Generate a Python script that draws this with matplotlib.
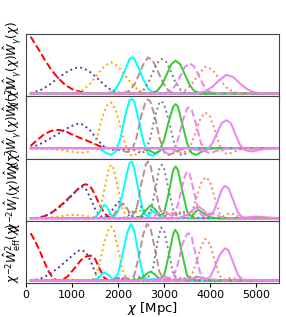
import numpy as np
import matplotlib
matplotlib.use("Agg")
import matplotlib.pyplot as plt

CHI_MIN = 100
CHI_MAX = 5500

# line style for each tomographic bin
COLORS = ['red', 'rebeccapurple', 'orange', 'cyan', 'rosybrown',
          'slategray', 'limegreen', 'violet', 'salmon', 'violet']
STYLES = ['--', ':', ':', '-', '--', ':', '-', '--', ':', '-']

YLABELS = [r'$\chi^{-2}\hat{W}_\gamma(\chi)\hat{W}_\gamma(\chi)$',
           r'$\chi^{-2}\hat{W}_\gamma(\chi)\hat{W}_I(\chi)$',
           r'$\chi^{-2}\hat{W}_I(\chi)\hat{W}_I(\chi)$',
           r'$\chi^{-2}\hat{W}^2_{\rm eff}(\chi)$']

XTICKS = [0, 1000, 2000, 3000, 4000, 5000]

# (chi [Mpc], value), arbitrary units per panel
panel_gg = [
    [(100, 171), (250, 138), (400, 103), (550, 71), (700, 46), (850, 26), (1000, 13), (1150, 6), (1300, 2), (1500, 0)],
    [(100, 1), (300, 9), (500, 25), (700, 47), (900, 66), (1050, 76), (1150, 79), (1250, 76), (1400, 64), (1550, 46), (1700, 26), (1850, 10), (2000, 3), (2150, 0)],
    [(1000, 0), (1200, 6), (1400, 30), (1550, 57), (1700, 82), (1850, 94), (2000, 82), (2150, 55), (2300, 28), (2450, 9), (2600, 2), (2700, 0)],
    [(1700, 0), (1850, 4), (1950, 15), (2050, 38), (2150, 70), (2250, 104), (2300, 109), (2350, 104), (2450, 76), (2550, 42), (2650, 15), (2750, 4), (2900, 0)],
    [(2100, 0), (2250, 8), (2350, 25), (2450, 55), (2550, 88), (2650, 109), (2750, 100), (2850, 72), (2950, 40), (3050, 15), (3150, 4), (3300, 0)],
    [(2400, 0), (2550, 10), (2650, 30), (2750, 62), (2850, 92), (2950, 104), (3050, 95), (3150, 65), (3250, 33), (3350, 12), (3450, 3), (3600, 0)],
    [(2700, 0), (2850, 8), (2950, 25), (3050, 55), (3150, 87), (3250, 99), (3350, 88), (3450, 58), (3550, 27), (3650, 8), (3800, 0)],
    [(3000, 0), (3150, 8), (3250, 25), (3350, 52), (3450, 80), (3550, 91), (3650, 82), (3750, 55), (3850, 26), (3950, 8), (4100, 0)],
    [(3300, 0), (3450, 8), (3600, 27), (3750, 58), (3900, 81), (4050, 72), (4200, 44), (4350, 18), (4500, 5), (4650, 0)],
    [(3700, 0), (3900, 7), (4050, 20), (4200, 40), (4350, 56), (4500, 50), (4650, 30), (4800, 13), (4950, 4), (5100, 1), (5300, 0)],
]

panel_gI = [
    [(100, 7), (250, 25), (400, 42), (550, 52), (700, 55), (850, 51), (1000, 41), (1150, 32), (1300, 24), (1450, 15), (1600, 6), (1750, 1), (1900, 0)],
    [(100, 1), (300, 12), (500, 27), (700, 43), (900, 60), (1050, 70), (1150, 74), (1250, 70), (1400, 52), (1550, 25), (1700, 4), (1850, -4), (2000, -6), (2150, -4), (2300, -1), (2500, 0)],
    [(500, -1), (800, -6), (1000, -11), (1200, -14), (1350, -11), (1450, 0), (1550, 35), (1650, 90), (1750, 127), (1850, 137), (1950, 115), (2050, 65), (2150, 14), (2250, -18), (2300, -23), (2400, -18), (2500, -8), (2650, -2), (2800, 0)],
    [(1500, 0), (1650, -5), (1750, -15), (1850, -20), (1950, -10), (2050, 30), (2150, 95), (2250, 145), (2300, 147), (2350, 140), (2450, 85), (2550, 20), (2650, -18), (2750, -23), (2850, -14), (2950, -5), (3100, -1), (3300, 0)],
    [(1900, 0), (2050, -6), (2200, -12), (2300, -6), (2400, 30), (2500, 95), (2600, 140), (2650, 146), (2700, 140), (2800, 95), (2900, 30), (3000, -12), (3100, -21), (3200, -15), (3350, -5), (3500, 0)],
    [(2200, 0), (2350, -6), (2500, -16), (2600, -8), (2700, 30), (2800, 95), (2900, 138), (2950, 140), (3000, 132), (3100, 85), (3200, 25), (3300, -15), (3400, -22), (3500, -14), (3650, -4), (3800, 0)],
    [(2550, 0), (2700, -8), (2800, -16), (2900, -8), (3000, 25), (3100, 80), (3200, 125), (3250, 132), (3300, 125), (3400, 70), (3500, 15), (3600, -15), (3700, -20), (3800, -12), (3950, -3), (4100, 0)],
    [(2850, 0), (3000, -10), (3100, -18), (3200, -8), (3300, 25), (3400, 80), (3500, 120), (3550, 122), (3600, 115), (3700, 70), (3800, 15), (3900, -10), (4000, -16), (4100, -10), (4250, -3), (4400, 0)],
    [(3100, 0), (3250, -8), (3400, -15), (3500, -8), (3600, 15), (3700, 55), (3800, 92), (3900, 107), (4000, 95), (4100, 55), (4200, 10), (4300, -15), (4400, -18), (4500, -12), (4650, -4), (4800, 0)],
    [(3500, 0), (3700, -5), (3850, -8), (3950, -4), (4050, 15), (4150, 45), (4250, 75), (4350, 84), (4450, 75), (4550, 42), (4650, 10), (4750, -6), (4900, -10), (5050, -6), (5200, -2), (5400, 0)],
]

panel_II = [
    [(250, 1), (400, 6), (550, 16), (700, 32), (850, 50), (1000, 70), (1150, 90), (1250, 100), (1300, 102), (1400, 95), (1500, 70), (1600, 40), (1700, 15), (1800, 3), (1900, 0)],
    [(250, 1), (400, 6), (550, 16), (700, 30), (850, 48), (1000, 68), (1150, 90), (1200, 95), (1300, 88), (1400, 60), (1500, 28), (1600, 8), (1700, 1), (1800, 8), (1900, 30), (2000, 48), (2050, 50), (2150, 38), (2250, 14), (2350, 2), (2500, 4), (2650, 2), (2800, 0)],
    [(300, 0), (500, 2), (700, 5), (900, 9), (1050, 10), (1200, 9), (1350, 5), (1500, 2), (1600, 20), (1700, 85), (1800, 150), (1850, 160), (1900, 150), (2000, 90), (2100, 25), (2200, 2), (2300, 8), (2450, 24), (2550, 18), (2650, 5), (2800, 0)],
    [(1450, 0), (1550, 8), (1650, 32), (1700, 40), (1750, 36), (1850, 8), (1900, 2), (2000, 20), (2100, 75), (2200, 140), (2250, 165), (2300, 170), (2350, 150), (2450, 80), (2550, 15), (2650, 5), (2750, 22), (2850, 12), (2950, 2), (3100, 0)],
    [(1800, 0), (1900, 8), (2000, 30), (2100, 43), (2200, 28), (2300, 8), (2400, 25), (2500, 100), (2600, 160), (2650, 170), (2700, 160), (2800, 95), (2900, 30), (3000, 5), (3100, 15), (3150, 17), (3250, 10), (3400, 2), (3550, 0)],
    [(2100, 0), (2250, 10), (2400, 30), (2500, 35), (2600, 18), (2700, 15), (2800, 80), (2900, 150), (2950, 160), (3000, 150), (3100, 85), (3200, 25), (3300, 8), (3400, 20), (3500, 14), (3650, 3), (3800, 0)],
    [(2350, 0), (2500, 6), (2650, 30), (2700, 38), (2800, 28), (2900, 8), (3000, 15), (3100, 75), (3200, 145), (3250, 155), (3300, 145), (3400, 80), (3500, 20), (3600, 5), (3700, 22), (3750, 25), (3850, 15), (4000, 3), (4150, 0)],
    [(2650, 0), (2800, 8), (2950, 22), (3050, 18), (3150, 5), (3250, 15), (3350, 70), (3450, 125), (3500, 140), (3550, 135), (3650, 80), (3750, 20), (3850, 5), (4000, 15), (4100, 12), (4250, 3), (4400, 0)],
    [(2900, 0), (3100, 8), (3300, 20), (3400, 15), (3500, 5), (3600, 15), (3700, 60), (3800, 105), (3900, 123), (4000, 110), (4100, 60), (4200, 15), (4300, 5), (4400, 14), (4500, 12), (4650, 4), (4800, 0)],
    [(3300, 0), (3500, 10), (3650, 28), (3750, 35), (3850, 25), (3950, 8), (4050, 12), (4150, 45), (4250, 85), (4320, 97), (4400, 90), (4500, 55), (4600, 18), (4700, 2), (4850, 3), (5000, 5), (5200, 3), (5400, 1)],
]

panel_eff = [
    [(100, 142), (200, 118), (300, 88), (400, 55), (500, 25), (600, 5), (700, 0), (800, 3), (900, 12), (1000, 28), (1100, 45), (1200, 62), (1300, 72), (1400, 75), (1500, 65), (1600, 35), (1700, 8), (1800, 0)],
    [(300, 5), (500, 18), (700, 38), (900, 62), (1050, 80), (1150, 90), (1200, 92), (1300, 85), (1400, 60), (1500, 25), (1600, 3), (1700, 0), (1900, 5), (2000, 8), (2100, 5), (2300, 2), (2500, 0)],
    [(500, 0), (800, 2), (1000, 3), (1200, 2), (1400, 0), (1500, 10), (1600, 50), (1700, 115), (1800, 155), (1850, 162), (1900, 155), (2000, 95), (2100, 30), (2200, 3), (2300, 2), (2450, 6), (2600, 4), (2800, 0)],
    [(1400, 0), (1550, 6), (1650, 20), (1710, 25), (1800, 15), (1900, 3), (2000, 20), (2100, 80), (2200, 145), (2280, 170), (2350, 150), (2450, 75), (2550, 12), (2650, 2), (2750, 5), (2900, 2), (3050, 0)],
    [(1800, 0), (1950, 5), (2100, 10), (2250, 5), (2350, 15), (2450, 70), (2550, 140), (2630, 170), (2700, 160), (2800, 95), (2900, 25), (3000, 3), (3100, 5), (3250, 3), (3400, 0)],
    [(2200, 0), (2400, 8), (2550, 15), (2650, 10), (2750, 30), (2850, 110), (2930, 159), (3000, 150), (3100, 85), (3200, 20), (3300, 3), (3450, 6), (3600, 2), (3750, 0)],
    [(2350, 0), (2500, 6), (2650, 23), (2710, 27), (2800, 18), (2900, 5), (3000, 15), (3100, 75), (3200, 140), (3240, 152), (3300, 140), (3400, 75), (3500, 15), (3600, 3), (3700, 12), (3800, 9), (3950, 2), (4100, 0)],
    [(2700, 0), (2900, 6), (3000, 12), (3100, 8), (3200, 10), (3300, 50), (3400, 110), (3500, 140), (3530, 142), (3600, 130), (3700, 70), (3800, 15), (3900, 3), (4000, 5), (4150, 2), (4300, 0)],
    [(3000, 0), (3200, 4), (3350, 8), (3500, 5), (3600, 15), (3700, 55), (3800, 100), (3890, 125), (4000, 110), (4100, 60), (4200, 15), (4300, 3), (4450, 8), (4600, 5), (4750, 0)],
    [(3300, 0), (3550, 5), (3750, 10), (3900, 5), (4000, 10), (4100, 40), (4200, 75), (4320, 97), (4400, 90), (4500, 55), (4600, 18), (4700, 3), (4900, 2), (5100, 1)],
]

PANELS = [panel_gg, panel_gI, panel_II, panel_eff]


def full_range(pts):
    # curves are zero outside the listed support, over the whole chi grid
    chi = [p[0] for p in pts]
    val = [p[1] for p in pts]
    if chi[0] > CHI_MIN:
        chi = [CHI_MIN] + chi
        val = [0] + val
    if chi[-1] < CHI_MAX:
        chi = chi + [CHI_MAX]
        val = val + [0]
    return np.array(chi), np.array(val)


fig, axes = plt.subplots(4, 1, figsize=(2.86, 3.17), dpi=100, sharex=True)
fig.subplots_adjust(left=0.091, right=0.976, top=0.893, bottom=0.106, hspace=0)

for ax, curves, label in zip(axes, PANELS, YLABELS):
    for i, pts in enumerate(curves):
        chi, val = full_range(pts)
        ax.plot(chi, val, color=COLORS[i], ls=STYLES[i], lw=1.4)
    ax.set_yticks([])
    ax.set_ylabel(label, fontsize=8.5, labelpad=2)
    ax.set_xlim(0, 5500)
    for s in ax.spines.values():
        s.set_color('#444444')

axes[-1].set_xticks(XTICKS)
axes[-1].tick_params(axis='x', labelsize=8, length=3, pad=1.5)
axes[-1].set_xlabel(r'$\chi$ [Mpc]', fontsize=9.5, labelpad=0)

fig.savefig("out.png", dpi=100)
